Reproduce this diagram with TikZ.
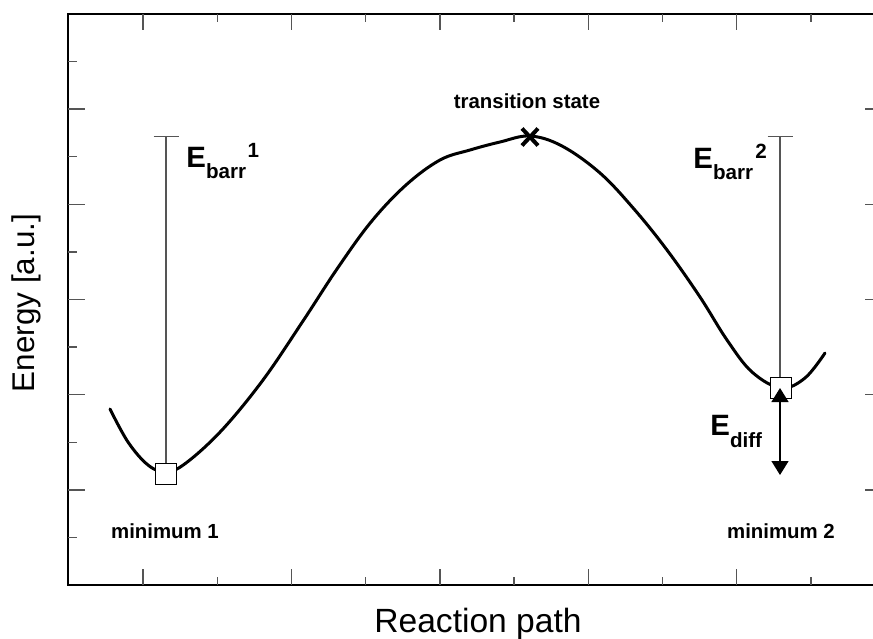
\documentclass[tikz,border=0pt]{standalone}
\usepackage{fontspec}
\setmainfont{Liberation Sans}
\usetikzlibrary{arrows.meta,shapes.misc}
\definecolor{tickgray}{RGB}{85,85,85}
\newcommand{\bigE}{{\fontsize{14.7}{16}\selectfont\bfseries E}}
\newcommand{\lowtxt}[1]{\raisebox{-5.5pt}{\fontsize{10.3}{12}\selectfont\bfseries #1}}
\newcommand{\hightxt}[1]{\raisebox{5pt}{\fontsize{10.3}{12}\selectfont\bfseries #1}}

\begin{document}
\begin{tikzpicture}[x=0.5pt,y=-0.5pt,
  axis/.style={line width=1.2pt},
  tick/.style={line width=0.7pt,tickgray},
  pes/.style={line width=1.5pt,line join=round,line cap=round},
  minbox/.style={draw,fill=white,line width=0.7pt,minimum size=10.5pt,inner sep=0pt},
  barr/.style={line width=0.7pt,tickgray,-{Bar[width=12.5pt]}},
  smalllab/.style={inner sep=0pt,font=\fontsize{10.2}{12}\selectfont\bfseries},
  elab/.style={inner sep=0pt,anchor=base west}]
  \useasboundingbox (0,0) rectangle (873,638);

  % Frame and ticks
  \draw[axis] (880,14) -- (68,14) -- (68,585) -- (880,585);
  \foreach \i in {0,...,9}{
    \pgfmathsetmacro{\xx}{143+74.2*\i}
    \pgfmathsetmacro{\len}{isodd(\i) ? 8 : 16}
    \draw[tick] (\xx,14) -- ++(0,\len);
    \draw[tick] (\xx,585) -- ++(0,-\len);
  }
  \foreach \k in {1,...,11}{
    \pgfmathsetmacro{\yy}{14+47.58*\k}
    \pgfmathsetmacro{\len}{isodd(\k) ? 9 : 17}
    \draw[tick] (68,\yy) -- ++(\len,0);
    \ifodd\k\else \draw[tick] (873,\yy) -- ++(-8,0); \fi
  }

  % Axis labels
  \node[rotate=90,inner sep=0pt,font=\fontsize{15.7}{18}\selectfont] (ylab) at (26,303) {Energy [a.u.]};
  \node[inner sep=0pt,font=\fontsize{16.8}{19}\selectfont] (xlab) at (478,624) {Reaction path};

  % Energy profile
  \draw[pes] plot[smooth,tension=0.6] coordinates {(110,409) (128,442) (148,465) (166,472)
    (186,463) (222,430) (263,380) (303,321) (337,269) (371,222) (406,185) (440,160)
    (470,150) (500,142) (530,136) (562,146) (600,173) (634,209) (667,250)
    (700,297) (727,340) (752,372) (781,388) (805,378) (825,353)};

  % Stationary points
  \node[minbox] (min1) at (166,474) {};
  \node[minbox] (min2) at (781,388) {};
  \node[cross out,draw,line width=2pt,minimum width=6pt,minimum height=6.5pt,inner sep=0pt] (ts) at (530,137) {};

  \node[smalllab,anchor=base] (tslab) at (527,108) {transition state};
  \node[smalllab,anchor=base] (min1lab) at (165,538) {minimum 1};
  \node[smalllab,anchor=base] (min2lab) at (781,538) {minimum 2};

  % Barriers
  \coordinate (top1) at (166,136);
  \coordinate (top2) at (780,136);
  \draw[barr] (min1.north) -- (top1);
  \draw[barr] (min2.north -| top2) -- (top2);
  \node[elab] (eb1) at (186,167) {\bigE\lowtxt{barr}\kern0.8pt\hightxt{1}};
  \node[elab] (eb2) at (693,168) {\bigE\lowtxt{barr}\kern1.2pt\hightxt{2}};

  % Energy difference
  \coordinate (dbot) at (780,475);
  \draw[line width=0.7pt,{Triangle[width=8.5pt,length=7pt]}-{Triangle[width=8.5pt,length=7pt]}] (min2.center -| dbot) -- (dbot);
  \node[elab] (ed) at (710,435) {\bigE\raisebox{-6pt}{\fontsize{10.3}{12}\selectfont\bfseries diff}};
\end{tikzpicture}
\end{document}
